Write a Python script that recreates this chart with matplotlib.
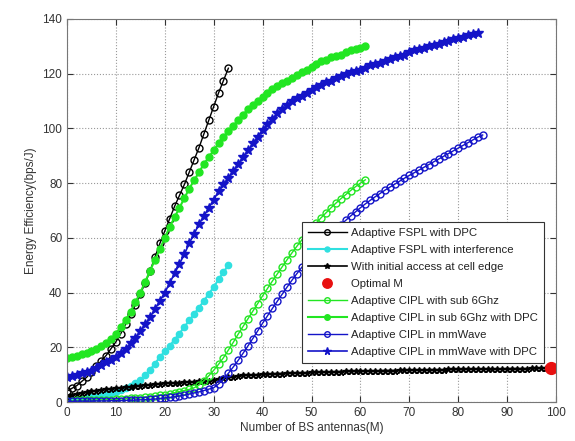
import matplotlib
matplotlib.use("Agg")
import matplotlib.pyplot as plt

plt.rcParams["font.family"] = ["Liberation Sans", "DejaVu Sans"]

# --- data (x = number of BS antennas) ---
fspl_dpc = [4.0, 5.0, 6.0, 7.5, 9.0, 11.0, 13.0, 15.0, 17.0, 19.5,
            22.0, 25.0, 28.5, 32.0, 35.5, 39.5, 43.5, 48.0, 53.0, 58.0,
            62.5, 67.0, 71.5, 75.5, 79.5, 84.0, 88.5, 93.0, 98.0, 103.0,
            108.0, 113.0, 117.5, 122.0]

fspl_intf = [0.5, 0.7, 0.9, 1.1, 1.4, 1.7, 2.0, 2.4, 2.8, 3.2,
             3.7, 4.3, 5.0, 5.8, 6.8, 8.0, 9.8, 11.8, 14.0, 16.5,
             18.5, 20.5, 22.8, 25.0, 27.5, 29.8, 32.2, 34.5, 37.0, 39.5,
             42.0, 44.8, 47.5, 50.0]

cell_edge = [2.0, 2.5, 3.0, 3.3, 3.6, 3.9, 4.2, 4.4, 4.6, 4.8,
             5.0, 5.2, 5.4, 5.6, 5.8, 6.0, 6.2, 6.3, 6.5, 6.7,
             6.8, 6.9, 7.0, 7.1, 7.2, 7.3, 7.4, 7.5, 7.6, 7.7,
             7.9, 8.3, 8.7, 9.0, 9.3, 9.5, 9.7, 9.8, 9.9, 10.0,
             10.1, 10.2, 10.3, 10.4, 10.4, 10.5, 10.6, 10.6, 10.7, 10.7,
             10.8, 10.9, 10.9, 11.0, 11.0, 11.1, 11.1, 11.2, 11.2, 11.3,
             11.3, 11.3, 11.4, 11.4, 11.4, 11.5, 11.5, 11.5, 11.6, 11.6,
             11.6, 11.7, 11.7, 11.7, 11.8, 11.8, 11.8, 11.8, 11.9, 11.9,
             11.9, 11.9, 12.0, 12.0, 12.0, 12.0, 12.1, 12.1, 12.1, 12.1,
             12.2, 12.2, 12.2, 12.2, 12.2, 12.3, 12.3, 12.3, 12.3, 12.3]

optimal_m = 99
optimal_ee = 12.3

cipl_sub6 = [0.5, 0.5, 0.6, 0.6, 0.7, 0.7, 0.8, 0.8, 0.9, 0.9,
             1.0, 1.1, 1.2, 1.3, 1.4, 1.5, 1.7, 1.9, 2.1, 2.4,
             2.7, 3.0, 3.4, 3.8, 4.2, 4.6, 5.2, 6.2, 7.8, 9.6,
             11.6, 13.8, 16.2, 19.0, 21.8, 24.8, 27.6, 30.4, 33.2, 36.0,
             38.8, 41.5, 44.2, 46.8, 49.4, 52.0, 54.5, 56.9, 59.2, 61.4,
             63.5, 65.5, 67.4, 69.2, 71.0, 72.7, 74.3, 75.8, 77.3, 78.7,
             80.0, 81.2]

cipl_sub6_dpc = [16.0, 16.5, 17.0, 17.5, 18.0, 18.5, 19.5, 20.5, 21.5, 23.0,
                 25.0, 27.5, 30.0, 33.0, 36.5, 40.0, 44.0, 48.0, 52.0, 56.0,
                 60.0, 64.0, 67.5, 71.0, 74.5, 78.0, 81.0, 84.0, 87.0, 89.5,
                 92.0, 94.5, 97.0, 99.0, 101.0, 103.0, 105.0, 107.0, 108.5, 110.0,
                 111.5, 113.0, 114.5, 115.5, 116.5, 117.5, 118.5, 119.5, 120.5, 121.5,
                 122.5, 123.5, 124.5, 125.0, 126.0, 126.5, 127.0, 128.0, 128.5, 129.0,
                 129.5, 130.0]

cipl_mmw = [0.2, 0.2, 0.3, 0.3, 0.3, 0.3, 0.4, 0.4, 0.4, 0.5,
            0.5, 0.5, 0.6, 0.6, 0.7, 0.8, 0.9, 1.0, 1.1, 1.3,
            1.5, 1.7, 1.9, 2.2, 2.5, 2.9, 3.3, 3.7, 4.2, 4.7,
            5.2, 6.6, 8.4, 10.5, 12.8, 15.2, 17.8, 20.5, 23.2, 26.0,
            28.8, 31.5, 34.2, 36.8, 39.4, 42.0, 44.5, 46.9, 49.2, 51.4,
            53.6, 55.7, 57.7, 59.6, 61.4, 63.1, 64.8, 66.4, 68.0, 69.5,
            71.0, 72.4, 73.7, 75.0, 76.2, 77.4, 78.5, 79.6, 80.7, 81.8,
            82.8, 83.8, 84.8, 85.8, 86.8, 87.8, 88.8, 89.8, 90.8, 91.8,
            92.8, 93.8, 94.8, 95.8, 96.8, 97.6]

cipl_mmw_dpc = [9.0, 9.5, 10.0, 10.5, 11.0, 11.5, 12.5, 13.5, 14.5, 15.5,
                16.5, 18.0, 19.5, 21.5, 23.5, 26.0, 28.5, 31.0, 34.0, 37.0,
                40.0, 43.5, 47.0, 50.5, 54.0, 58.0, 61.5, 65.0, 68.0, 71.0,
                74.0, 77.0, 79.5, 82.0, 84.5, 87.0, 89.5, 92.0, 94.5, 97.0,
                99.5, 101.5, 103.5, 105.5, 107.0, 108.5, 110.0, 111.0, 112.0, 113.0,
                114.0, 115.0, 116.0, 117.0, 117.5, 118.5, 119.0, 120.0, 120.5, 121.0,
                121.5, 122.0, 123.0, 123.5, 124.0, 124.5, 125.5, 126.0, 126.5, 127.0,
                128.0, 128.5, 129.0, 129.5, 130.0, 130.5, 131.0, 131.5, 132.0, 132.5,
                133.0, 133.5, 134.0, 134.5, 135.0]

GREEN = "#22e622"
BLUE = "#1414c8"
CYAN = "#30e0e0"

fig = plt.figure(figsize=(5.75, 4.41), dpi=100)
ax = fig.add_axes([0.1165, 0.0884, 0.8505, 0.8686])

ax.plot(range(len(fspl_dpc)), fspl_dpc, color="black", marker="o", lw=1, ms=5,
        mfc="none", mew=1, label="Adaptive FSPL with DPC")
ax.plot(range(len(fspl_intf)), fspl_intf, color=CYAN, marker=".", lw=1.5, ms=9,
        label="Adaptive FSPL with interference")
ax.plot(range(len(cell_edge)), cell_edge, color="black", marker="*", lw=1.2, ms=5,
        label="With initial access at cell edge")
ax.plot([optimal_m], [optimal_ee], "o", color="#e81010", ms=8.5, ls="none",
        label="Optimal M")
ax.plot(range(len(cipl_sub6)), cipl_sub6, color=GREEN, marker="o", lw=1, ms=5,
        mfc="none", mew=1, label="Adaptive CIPL with sub 6Ghz")
ax.plot(range(len(cipl_sub6_dpc)), cipl_sub6_dpc, color=GREEN, marker=".", lw=1.5,
        ms=10, label="Adaptive CIPL in sub 6Ghz with DPC")
ax.plot(range(len(cipl_mmw)), cipl_mmw, color=BLUE, marker="o", lw=1, ms=5,
        mfc="none", mew=1, label="Adaptive CIPL in mmWave")
ax.plot(range(len(cipl_mmw_dpc)), cipl_mmw_dpc, color=BLUE, marker="*", lw=1.2,
        ms=7, label="Adaptive CIPL in mmWave with DPC")

ax.set_xlim(0, 100)
ax.set_ylim(0, 140)
ax.set_xticks(range(0, 101, 10))
ax.set_yticks(range(0, 141, 20))
ax.grid(True, color="#999999", linestyle=":", linewidth=0.8)
ax.tick_params(direction="in", top=True, right=True, labelsize=8.5,
               colors="#333333", length=4)
for s in ax.spines.values():
    s.set_color("#777777")
ax.set_xlabel("Number of BS antennas(M)", fontsize=8.5, color="#333333", labelpad=2)
ax.set_ylabel("Energy Efficiency(bps/J)", fontsize=8.5, color="#333333", labelpad=4)

leg = ax.legend(loc="lower right", bbox_to_anchor=(0.975, 0.102), fontsize=8.2,
                handlelength=3.4, frameon=True, fancybox=False, framealpha=1,
                borderpad=0.5, labelspacing=0.62, handletextpad=0.4,
                borderaxespad=0, markerscale=0.8)
leg.get_frame().set_edgecolor("#333333")
leg.get_frame().set_linewidth(0.8)
for t in leg.get_texts():
    t.set_color("#222222")

fig.savefig("out.png", dpi=100)
